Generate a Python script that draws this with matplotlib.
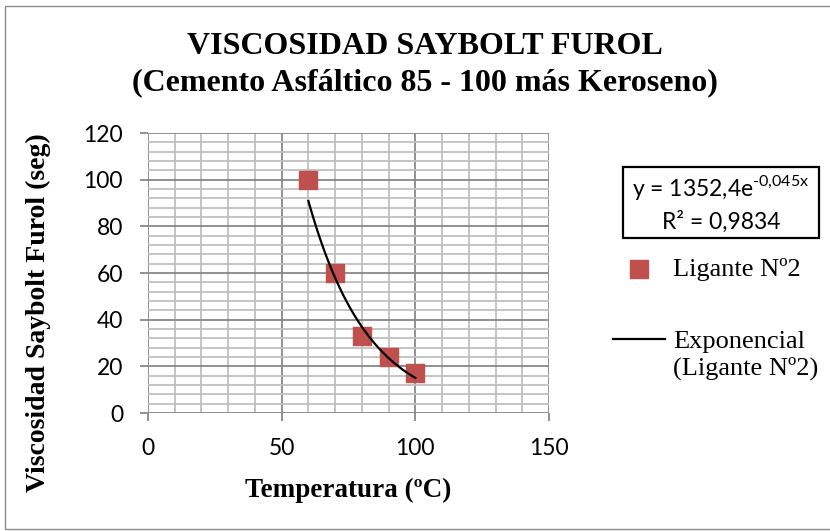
import numpy as np
import matplotlib.pyplot as plt
from matplotlib.patches import Rectangle
from matplotlib.legend_handler import HandlerLine2D

# data
temperatura = [60, 70, 80, 90, 100]
viscosidad = [100, 60, 33, 24, 17]
coef_a = 1352.4
coef_b = -0.045
r2_text = "0,9834"

plt.rcParams['mathtext.fontset'] = 'custom'
plt.rcParams['mathtext.rm'] = 'Lato'


class TopLineHandler(HandlerLine2D):
    # put the trendline handle next to the first line of a two line label
    def create_artists(self, legend, orig_handle, xdescent, ydescent,
                       width, height, fontsize, trans):
        arts = super().create_artists(legend, orig_handle, xdescent, ydescent,
                                      width, height, fontsize, trans)
        for a in arts:
            a.set_ydata(np.asarray(a.get_ydata()) + 0.6*fontsize)
        return arts


W, H = 830, 531
fig = plt.figure(figsize=(8.3, 5.31), dpi=100)
ax = fig.add_axes([148/W, 1 - 413/H, (549-148)/W, (413-133)/H])

# grid like excel: minor light, major darker
for xv in np.arange(0, 151, 10):
    c = '#888888' if xv % 50 == 0 else '#bfbfbf'
    ax.axvline(xv, color=c, lw=1.3, zorder=0)
for yv in np.arange(0, 121, 4):
    c = '#888888' if yv % 20 == 0 else '#bfbfbf'
    ax.axhline(yv, color=c, lw=1.3, zorder=0)

ax.scatter(temperatura, viscosidad, marker='s', s=150, color='#c0504d',
           edgecolors='#c0504d', zorder=3, label='Ligante Nº2')
xs = np.linspace(min(temperatura), max(temperatura), 100)
trend, = ax.plot(xs, coef_a*np.exp(coef_b*xs), color='black', lw=1.6, zorder=4,
                 label='Exponencial\n(Ligante Nº2)')

ax.set_xlim(0, 150)
ax.set_ylim(0, 120)
ax.set_xticks([0, 50, 100, 150])
ax.set_yticks(np.arange(0, 121, 20))
for s in ax.spines.values():
    s.set_visible(False)
ax.tick_params(axis='both', length=6, width=1.3, color='#888888', labelsize=16.5)
ax.tick_params(axis='x', pad=12)
ax.tick_params(axis='y', pad=12)
for lab in ax.get_xticklabels() + ax.get_yticklabels():
    lab.set_family('Lato')

ax.set_xlabel('Temperatura (ºC)', family='Liberation Serif', fontweight='bold',
              fontsize=19.5, va='center')
ax.xaxis.set_label_coords(0.5, (413-490)/280)
ax.set_ylabel('Viscosidad Saybolt Furol (seg)', family='Liberation Serif',
              fontweight='bold', fontsize=20, va='center')
ax.yaxis.set_label_coords((38-148)/401, (413-313)/280)

fig.text(0.512, 1 - 47/H, 'VISCOSIDAD SAYBOLT FUROL', ha='center', va='center',
         family='Liberation Serif', fontweight='bold', fontsize=23)
fig.text(0.512, 1 - 83/H, '(Cemento Asfáltico 85 - 100 más Keroseno)', ha='center',
         va='center', family='Liberation Serif', fontweight='bold', fontsize=23)

# equation box
fig.add_artist(Rectangle((623/W, 1 - 238/H), (819-623)/W, (238-167)/H,
                         transform=fig.transFigure, fc='white', ec='black', lw=1.6))
fig.text(721/W, 1 - 188/H, 'y = 1352,4e$^{\\text{-0,045x}}$', ha='center',
         va='center', family='Lato', fontsize=16.5)
fig.text(721/W, 1 - 222/H, 'R² = ' + r2_text, ha='center', va='center',
         family='Lato', fontsize=16.5)

leg = fig.legend(loc='upper left', bbox_to_anchor=(602/W, 1 - 247/H), frameon=False,
                 prop={'family': 'Liberation Serif', 'size': 19}, handlelength=2.0,
                 labelspacing=1.9, handletextpad=0.3, borderaxespad=0,
                 handler_map={trend: TopLineHandler()})

fig.add_artist(Rectangle((5/W, 2/H), (W + 10)/W, 1 - 8/H, transform=fig.transFigure,
                         fill=False, ec='#8c8c8c', lw=1))

fig.savefig('out.png', dpi=100)
